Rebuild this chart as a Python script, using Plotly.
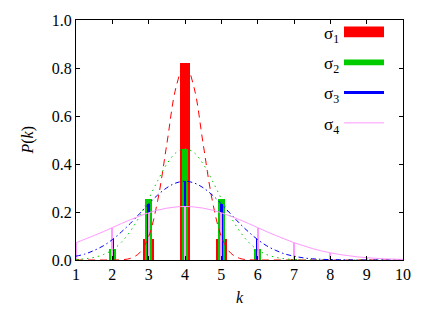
import plotly.graph_objects as go

# ---- data ----
k = [1, 2, 3, 4, 5, 6, 7, 8, 9, 10]
p_sigma1 = [0.0, 0.0, 0.089, 0.82, 0.089, 0.0, 0.0, 0.0, 0.0, 0.0]
p_sigma2 = [0.002, 0.044, 0.255, 0.464, 0.255, 0.044, 0.002, 0.0, 0.0, 0.0]
p_sigma3 = [0.016, 0.088, 0.234, 0.328, 0.234, 0.088, 0.016, 0.0015, 0.0, 0.0]
p_sigma4 = [0.072, 0.135, 0.197, 0.223, 0.197, 0.135, 0.072, 0.030, 0.010, 0.0025]

x_curve = [1 + 0.25 * i for i in range(37)]
c_sigma1 = [0, 0, 0, 0, 0, 0.001, 0.007, 0.030, 0.098, 0.249, 0.483, 0.718, 0.82,
            0.718, 0.483, 0.249, 0.098, 0.030, 0.007, 0.001, 0, 0, 0, 0, 0, 0, 0, 0, 0,
            0, 0, 0, 0, 0, 0, 0, 0]
c_sigma2 = [0.002, 0.005, 0.011, 0.0225, 0.042, 0.074, 0.121, 0.182, 0.255, 0.331, 0.400, 0.447, 0.464,
            0.447, 0.400, 0.331, 0.255, 0.182, 0.121, 0.074, 0.042, 0.0225, 0.011, 0.005, 0.002, 0.001, 0,
            0, 0, 0, 0, 0, 0, 0, 0, 0, 0]
c_sigma3 = [0.016, 0.025, 0.040, 0.059, 0.085, 0.117, 0.153, 0.193, 0.234, 0.271, 0.301, 0.321, 0.328,
            0.321, 0.301, 0.271, 0.234, 0.193, 0.153, 0.117, 0.085, 0.059, 0.040, 0.025, 0.016, 0.009, 0.005,
            0.003, 0.0015, 0.001, 0.0004, 0, 0, 0, 0, 0, 0]
c_sigma4 = [0.072, 0.087, 0.102, 0.118, 0.135, 0.152, 0.168, 0.183, 0.197, 0.208, 0.216, 0.221, 0.223,
            0.221, 0.216, 0.208, 0.197, 0.183, 0.168, 0.152, 0.135, 0.118, 0.102, 0.087, 0.072, 0.060, 0.048,
            0.038, 0.030, 0.023, 0.018, 0.013, 0.0098, 0.007, 0.005, 0.0036, 0.0025]

series_names = ["σ<sub>1</sub>", "σ<sub>2</sub>", "σ<sub>3</sub>", "σ<sub>4</sub>"]
x_ticks = [1, 2, 3, 4, 5, 6, 7, 8, 9, 10]
y_ticks = [0.0, 0.2, 0.4, 0.6, 0.8, 1.0]

# ---- styles ----
colors = ["#ff0000", "#00cc00", "#0000ff", "#ff99ff"]
bar_widths = [0.3, 0.18, 0.08, 0.03]
dashes = ["7px,5px", "1.5px,4px", "5px,3px,1.5px,3px", "solid"]
FONT = "Liberation Serif"

fig = go.Figure()
bars = [p_sigma1, p_sigma2, p_sigma3, p_sigma4]
curves = [c_sigma1, c_sigma2, c_sigma3, c_sigma4]
for i in range(4):
    fig.add_trace(go.Bar(x=k, y=bars[i], width=bar_widths[i], marker_color=colors[i],
                         marker_line_width=0, showlegend=False))
for i in range(4):
    fig.add_trace(go.Scatter(x=x_curve, y=curves[i], mode="lines",
                             line=dict(color=colors[i], width=1, dash=dashes[i],
                                       shape="spline", smoothing=1),
                             showlegend=False))

# legend drawn manually (gnuplot style)
x0, x1 = (344 - 76) / 327, (384 - 76) / 327
leg_y = [(260 - 27.2) / 245, (260 - 58.3) / 245, (260 - 89) / 245, (260 - 120) / 245]
leg_h = [11, 6, 3, 1]
for i in range(4):
    hy = leg_h[i] / 2 / 245
    if leg_h[i] >= 6:
        fig.add_shape(type="rect", xref="paper", yref="paper", x0=x0, x1=x1,
                      y0=leg_y[i] - hy, y1=leg_y[i] + hy,
                      fillcolor=colors[i], line_width=0)
    else:
        fig.add_shape(type="line", xref="paper", yref="paper", x0=x0, x1=x1,
                      y0=leg_y[i], y1=leg_y[i], line=dict(color=colors[i], width=leg_h[i]))
    fig.add_annotation(xref="paper", yref="paper", x=(341 - 76) / 327, y=leg_y[i] - 3 / 245,
                       text=series_names[i], showarrow=False, xanchor="right", yanchor="middle",
                       font=dict(family=FONT, size=17, color="black"))

fig.add_annotation(xref="paper", yref="paper", x=(28 - 76) / 327, y=(260 - 138) / 245,
                   text="<i>P</i>(<i>k</i>)", textangle=-90, showarrow=False,
                   xanchor="center", yanchor="middle", font=dict(family=FONT, size=16, color="black"))
fig.add_annotation(xref="paper", yref="paper", x=(240 - 76) / 327, y=(260 - 298) / 245,
                   text="<i>k</i>", showarrow=False,
                   xanchor="center", yanchor="middle", font=dict(family=FONT, size=16, color="black"))

fig.update_layout(
    width=436, height=309,
    margin=dict(l=76, r=33, t=15, b=49),
    paper_bgcolor="white", plot_bgcolor="white",
    barmode="overlay", bargap=0,
    font=dict(family=FONT, size=16, color="black"),
)
fig.update_xaxes(range=[1, 10], tickvals=x_ticks, ticktext=[str(v) for v in x_ticks],
                 ticks="inside", ticklen=4, tickcolor="black", showline=True, linecolor="black",
                 linewidth=1, mirror="ticks", showgrid=False, zeroline=False)
fig.update_yaxes(range=[0, 1], tickvals=y_ticks, ticktext=[f"{v:.1f}" for v in y_ticks],
                 ticks="inside", ticklen=4, tickcolor="black", showline=True, linecolor="black",
                 linewidth=1, mirror="ticks", showgrid=False, zeroline=False)

fig.write_html("out.html", config={"displayModeBar": False},
               post_script="document.body.style.margin='0px';document.body.style.overflow='hidden';")
